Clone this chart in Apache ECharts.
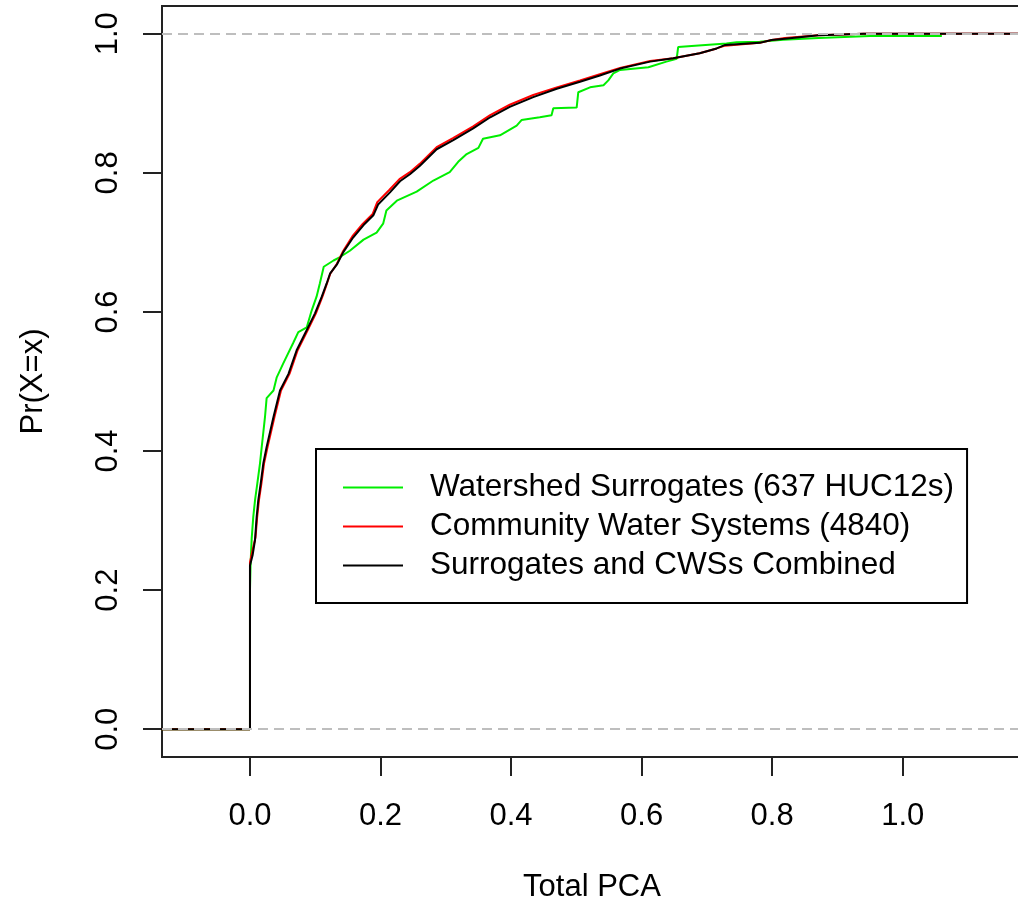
<!DOCTYPE html>
<html>
<head>
<meta charset="utf-8">
<script src="https://cdn.jsdelivr.net/npm/echarts@6/dist/echarts.min.js"></script>
<style>
    html, body { margin: 0; padding: 0; background: #fff; }
    #main { width: 1018px; height: 911px; }
</style>
</head>
<body>
<div id="main"></div>
<script>
// series names (legend)
var seriesNames = ['Watershed Surrogates (637 HUC12s)', 'Community Water Systems (4840)', 'Surrogates and CWSs Combined'];
// tick values
var xTicks = [0, 0.2, 0.4, 0.6, 0.8, 1.0];
var yTicks = [0, 0.2, 0.4, 0.6, 0.8, 1.0];
// ecdf points [Total PCA, Pr]
var watershed = [
    [-0.2, 0], [0, 0], [0, 0.20], [0.001, 0.24], [0.0026, 0.274], [0.005, 0.305], [0.0077, 0.329],
    [0.0112, 0.353], [0.0153, 0.382], [0.018, 0.406], [0.023, 0.449], [0.0255, 0.476], [0.036, 0.487],
    [0.041, 0.506], [0.051, 0.526], [0.066, 0.555], [0.074, 0.571], [0.087, 0.578], [0.0945, 0.602],
    [0.102, 0.622], [0.107, 0.641], [0.113, 0.665], [0.128, 0.674], [0.138, 0.679], [0.153, 0.688],
    [0.174, 0.704], [0.194, 0.714], [0.204, 0.727], [0.209, 0.746], [0.225, 0.760], [0.2554, 0.773],
    [0.281, 0.789], [0.306, 0.801], [0.319, 0.816], [0.332, 0.827], [0.350, 0.836], [0.357, 0.849],
    [0.383, 0.854], [0.4086, 0.868], [0.416, 0.876], [0.444, 0.880], [0.462, 0.883], [0.4647, 0.893],
    [0.5005, 0.894], [0.503, 0.916], [0.521, 0.923], [0.5416, 0.926], [0.549, 0.933], [0.5567, 0.943],
    [0.567, 0.948], [0.6104, 0.952], [0.638, 0.960], [0.6537, 0.964], [0.656, 0.981], [0.682, 0.983],
    [0.730, 0.986], [0.7456, 0.988], [0.781, 0.9885], [0.817, 0.9915], [0.871, 0.994], [0.950, 0.997],
    [1.06, 0.997]
];
var community = [
    [-0.2, 0], [0, 0], [0, 0.24], [0.005, 0.262], [0.0085, 0.276], [0.011, 0.305], [0.0137, 0.329],
    [0.0175, 0.353], [0.0215, 0.382], [0.027, 0.406], [0.0375, 0.449], [0.0475, 0.487], [0.0605, 0.511],
    [0.073, 0.545], [0.0885, 0.574], [0.101, 0.598], [0.111, 0.622], [0.118, 0.641], [0.123, 0.655],
    [0.133, 0.669], [0.143, 0.688], [0.157, 0.709], [0.173, 0.727], [0.188, 0.741], [0.195, 0.758],
    [0.213, 0.775], [0.229, 0.791], [0.245, 0.801], [0.260, 0.813], [0.286, 0.837], [0.311, 0.850],
    [0.342, 0.867], [0.368, 0.883], [0.398, 0.898], [0.434, 0.912], [0.470, 0.923], [0.5056, 0.933],
    [0.536, 0.942], [0.567, 0.951], [0.613, 0.961], [0.6485, 0.965], [0.689, 0.972], [0.715, 0.979],
    [0.728, 0.983], [0.781, 0.987], [0.799, 0.991], [0.8196, 0.994], [0.871, 0.998], [0.94, 1.0],
    [1.3, 1.0]
];
var combined = [
    [-0.2, 0], [0, 0], [0, 0.2355], [0.004, 0.25], [0.0077, 0.272], [0.0102, 0.305], [0.0127, 0.329],
    [0.0164, 0.353], [0.0204, 0.382], [0.0255, 0.406], [0.036, 0.449], [0.046, 0.487], [0.059, 0.511],
    [0.0715, 0.545], [0.087, 0.574], [0.0996, 0.598], [0.11, 0.622], [0.1175, 0.641], [0.1226, 0.655],
    [0.133, 0.668], [0.143, 0.686], [0.158, 0.707], [0.174, 0.725], [0.189, 0.739], [0.1966, 0.755],
    [0.2145, 0.772], [0.2298, 0.788], [0.245, 0.798], [0.260, 0.810], [0.286, 0.834], [0.3115, 0.847],
    [0.342, 0.864], [0.368, 0.880], [0.398, 0.895], [0.434, 0.909], [0.470, 0.921], [0.5056, 0.931],
    [0.536, 0.940], [0.567, 0.950], [0.613, 0.960], [0.6485, 0.965], [0.689, 0.972], [0.715, 0.979],
    [0.728, 0.984], [0.781, 0.987], [0.799, 0.991], [0.8196, 0.993], [0.871, 0.998], [0.94, 1.0],
    [1.3, 1.0]
];
var lineColors = ['#00ee00', '#ff0000', '#000000'];

var font = '"Liberation Sans", Arial, sans-serif';
var chart = echarts.init(document.getElementById('main'));

var makeSeries = function(i, data){
    return {
        name: seriesNames[i],
        type: 'line',
        data: data,
        showSymbol: false,
        symbol: 'none',
        smooth: false,
        z: 2 + i,
        itemStyle: { color: lineColors[i] },
        lineStyle: { color: lineColors[i], width: 2 }
    };
};

var option = {
    animation: false,
    backgroundColor: '#fff',
    grid: {
        left: 162, top: 6, right: -4, bottom: 154,
        show: true, borderColor: '#222', borderWidth: 2,
        containLabel: false, outerBoundsMode: 'none'
    },
    legend: {
        orient: 'vertical',
        left: 316, top: 449,
        padding: [20, 13, 19, 27],
        borderColor: '#000', borderWidth: 2,
        backgroundColor: '#fff',
        icon: 'rect',
        itemWidth: 60, itemHeight: 2, itemGap: 2,
        selectedMode: false,
        textStyle: { fontFamily: font, fontSize: 31.5, color: '#000', lineHeight: 37, padding: [0, 0, 0, 22] },
        data: seriesNames
    },
    xAxis: {
        type: 'value',
        min: -0.1348, max: 1.1828,
        name: 'Total PCA',
        nameLocation: 'middle',
        nameGap: 115,
        nameTextStyle: { fontFamily: font, fontSize: 31, color: '#000' },
        axisLine: { show: false, onZero: false },
        axisTick: { show: true, inside: false, length: 19, customValues: xTicks, lineStyle: { color: '#222', width: 2 } },
        axisLabel: { customValues: xTicks, margin: 44, fontFamily: font, fontSize: 31, color: '#000',
            formatter: function(v){ return v.toFixed(1); } },
        splitLine: { show: false }
    },
    yAxis: {
        type: 'value',
        min: -0.04, max: 1.04,
        name: 'Pr(X=x)',
        nameLocation: 'middle',
        nameGap: 113,
        nameTextStyle: { fontFamily: font, fontSize: 31, color: '#000' },
        axisLine: { show: false, onZero: false },
        axisTick: { show: true, inside: false, length: 19, customValues: yTicks, lineStyle: { color: '#222', width: 2 } },
        axisLabel: { customValues: yTicks, margin: 38, rotate: 90, fontFamily: font, fontSize: 31, color: '#000',
            formatter: function(v){ return v.toFixed(1); } },
        splitLine: { show: false }
    },
    series: [
        makeSeries(0, watershed),
        makeSeries(1, community),
        makeSeries(2, combined),
        {   // gray reference lines at 0 and 1, drawn over the curves
            name: 'ref',
            type: 'line',
            data: [],
            z: 10,
            markLine: {
                silent: true,
                symbol: 'none',
                label: { show: false },
                lineStyle: { color: '#bebebe', width: 2, type: [10, 6] },
                data: [{ yAxis: 0 }, { yAxis: 1 }]
            }
        }
    ]
};
chart.setOption(option);
</script>
</body>
</html>
